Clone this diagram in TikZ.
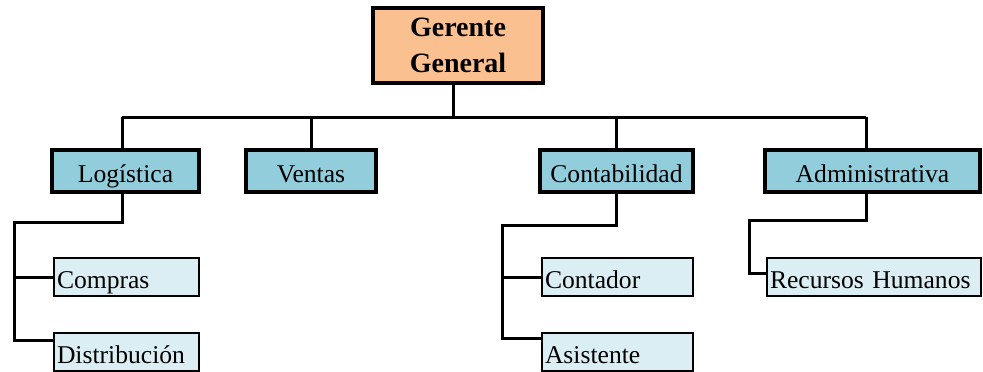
\documentclass[tikz,border=0pt]{standalone}
\usepackage{fontspec}
\setmainfont{Liberation Serif}
\usepackage{tikz}

\definecolor{durazno}{HTML}{FAC090}
\definecolor{celeste}{HTML}{92CDDC}
\definecolor{celestito}{HTML}{DBEEF4}

\tikzset{
  jefe/.style = {draw, line width = 2pt, fill = durazno, align = center, inner sep = 0pt,
                 font = \fontsize{14}{18}\selectfont\bfseries},
  area/.style = {draw, line width = 2pt, fill = celeste, inner sep = 0pt, text height = 12pt, text depth = 1pt,
                 minimum height = 21pt, font = \fontsize{12.8}{15}\selectfont},
  cargo/.style = {draw, line width = 0.75pt, fill = celestito, inner xsep = 1.5pt, inner ysep = 0pt,
                  text height = 12pt, text depth = 1pt,
                  align = left, minimum height = 19pt, font = \fontsize{12.8}{15}\selectfont},
  linea/.style = {line width = 1.5pt}
}

\begin{document}
\begin{tikzpicture}[x = 0.5pt, y = -0.5pt]
\useasboundingbox (0,0) rectangle (983,371);
\node[jefe, minimum width = 85pt, minimum height = 37.5pt] (ger) at (458,45.5) {Gerente\\General};
\node[area, minimum width = 73.5pt] (log) at (125.5,171) {Logística};
\node[area, minimum width = 65pt] (ven) at (311,171) {Ventas};
\node[area, minimum width = 76.5pt] (con) at (616.5,171) {Contabilidad};
\node[area, minimum width = 107.5pt] (adm) at (872.5,171) {Administrativa};
\node[cargo, text width = 69.5pt] (com) at (126.5,277) {Compras};
\node[cargo, text width = 69.5pt] (dis) at (126.5,352) {Distribución};
\node[cargo, text width = 72.5pt] (cont) at (617.5,277) {Contador};
\node[cargo, text width = 72.5pt] (asi) at (617.5,352) {Asistente};
\node[cargo, text width = 104pt] (rh) at (874,277) {Recursos Humanos};
% barra del gerente
\coordinate (barra) at (0,117);
\draw[linea] ([xshift = -2.5pt]ger.south) -- ([xshift = -2.5pt]ger.south |- barra);
\draw[linea] ([xshift = -1.75pt]log.north |- barra) -- ([xshift = -3.25pt]adm.north |- barra);
\draw[linea] ([xshift = -1.75pt]log.north) -- ([xshift = -1.75pt]log.north |- barra);
\draw[linea] (ven.north) -- (ven.north |- barra);
\draw[linea] (con.north) -- (con.north |- barra);
\draw[linea] ([xshift = -3.25pt]adm.north) -- ([xshift = -3.25pt]adm.north |- barra);
% logistica
\coordinate (codo1) at (14,222);
\draw[linea] ([xshift = -1.75pt]log.south) |- (codo1) |- ([yshift = -4pt]dis.north west);
\draw[linea] (codo1 |- com.west) -- (com.west);
% contabilidad
\coordinate (codo2) at (502,225);
\draw[linea] (con.south) |- (codo2) |- ([yshift = -3pt]asi.north west);
\draw[linea] (codo2 |- cont.west) -- (cont.west);
% administrativa
\coordinate (codo3) at (749,220);
\draw[linea] ([xshift = -3.25pt]adm.south) |- (codo3) |- ([yshift = 2pt]rh.west);
\end{tikzpicture}
\end{document}
